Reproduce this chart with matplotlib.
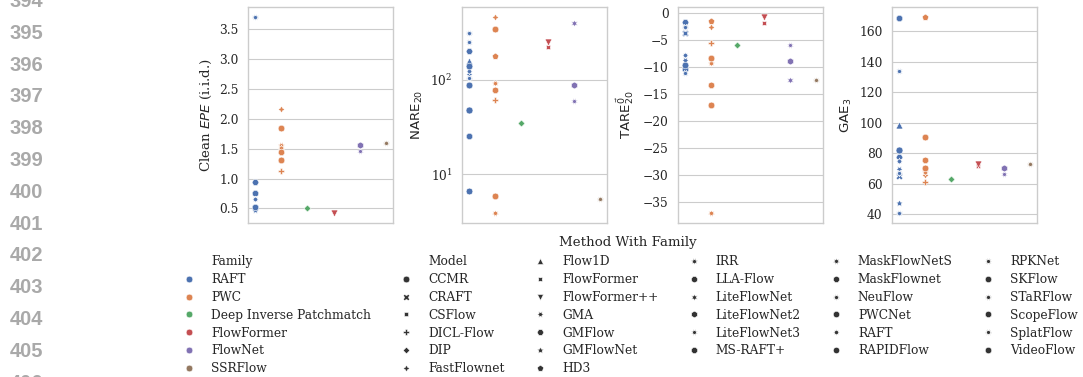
import numpy as np
import matplotlib
matplotlib.use("Agg")
import matplotlib.pyplot as plt
import seaborn as sns
from matplotlib.lines import Line2D

sns.set_theme(context="paper", style="whitegrid", font="serif")
plt.rcParams['font.family'] = ['DejaVu Serif']
plt.rcParams['mathtext.fontset'] = 'dejavusans'

nan = np.nan

families = ["RAFT", "PWC", "Deep Inverse Patchmatch", "FlowFormer", "FlowNet", "SSRFlow"]

models = ["CCMR", "CRAFT", "CSFlow", "DICL-Flow", "DIP", "FastFlownet", "Flow1D",
          "FlowFormer", "FlowFormer++", "GMA", "GMFlow", "GMFlowNet", "HD3", "IRR",
          "LLA-Flow", "LiteFlowNet", "LiteFlowNet2", "LiteFlowNet3", "MS-RAFT+",
          "MaskFlowNetS", "MaskFlownet", "NeuFlow", "PWCNet", "RAFT", "RAPIDFlow",
          "RPKNet", "SKFlow", "STaRFlow", "ScopeFlow", "SplatFlow", "VideoFlow"]

model_family = ["RAFT", "RAFT", "RAFT", "PWC", "Deep Inverse Patchmatch", "PWC", "RAFT",
                "FlowFormer", "FlowFormer", "RAFT", "RAFT", "RAFT", "PWC", "PWC",
                "RAFT", "FlowNet", "FlowNet", "FlowNet", "RAFT",
                "PWC", "PWC", "RAFT", "PWC", "RAFT", "RAFT",
                "RAFT", "RAFT", "SSRFlow", "PWC", "RAFT", "RAFT"]

clean_epe = [nan, 0.50, nan, 1.12, 0.50, 2.17, nan,
             nan, 0.42, 0.47, 0.95, nan, nan, 1.57,
             0.75, nan, 1.56, 1.46, 0.53,
             1.52, 1.44, 3.71, 1.85, 0.65, nan,
             nan, nan, 1.60, 1.31, nan, nan]

nare20 = [48.5, nan, nan, 61.4, 34.8, 466, 157,
          224, 253, 114, 203, nan, 178, 91.6,
          nan, 399, 87.9, 59.8, 25.3,
          3.86, 78.3, 315, 345, 124, 6.56,
          249, 140, 5.4, 5.9, 104, 89]

tare20 = [nan, -3.7, -3.8, -5.63, -6.0, -2.58, nan,
          -1.84, -0.74, -8.7, -1.75, nan, -1.53, -9.3,
          nan, -12.44, -8.88, -5.94, -10.3,
          -37.02, -13.35, -2.6, -8.33, -7.8, nan,
          -11.2, -9.6, -12.44, -17.03, nan, nan]

gae3 = [82.4, 65.3, nan, 61.4, 62.9, 65.8, 98.4,
        71.9, 73.2, 69.7, 77.6, 47.6, 169.4, 68.0,
        nan, nan, 70.2, 66.6, 168.7,
        nan, 75.8, 40.8, 90.5, 74.8, nan,
        133.8, nan, 73.0, 70.6, 67.1, nan]

ylabels = [r"Clean $EPE$ (i.i.d.)", r"$\mathrm{NARE}_{20}$",
           r"$\mathrm{TARE}^{\vec{0}}_{20}$", r"$\mathrm{GAE}_{3}$"]


def unique_markers(n):
    markers = ["o", "X", (4, 0, 45), "P", (4, 0, 0), (4, 1, 0), "^", (4, 1, 45), "v"]
    s = 5
    while len(markers) < n:
        a = 360 / (s + 1) / 2
        markers.extend([(s + 1, 1, a), (s + 1, 0, a), (s, 1, 0), (s, 0, 0)])
        s += 1
    return markers[:n]


colors = dict(zip(families, sns.color_palette("deep", len(families))))
markers = dict(zip(models, unique_markers(len(models))))

W, H = 1083, 377
fig = plt.figure(figsize=(W / 100, H / 100), dpi=100)

lefts = [248, 462, 678, 892]
ax_w, ax_top, ax_bot = 145, 7, 223
metrics = [clean_epe, nare20, tare20, gae3]
axes = []
for i, (left, vals) in enumerate(zip(lefts, metrics)):
    ax = fig.add_axes([left / W, 1 - ax_bot / H, ax_w / W, (ax_bot - ax_top) / H])
    axes.append(ax)
    for m, fam, v in zip(models, model_family, vals):
        if np.isnan(v):
            continue
        ax.scatter([families.index(fam)], [v], marker=markers[m], color=colors[fam],
                   s=25, edgecolor="white", linewidth=0.4, zorder=3)
    ax.set_xlim(-0.25, len(families) - 0.75)
    ax.set_xticks([])
    ax.set_ylabel(ylabels[i])
    ax.tick_params(axis="y", pad=2)

axes[0].set_yticks(np.arange(0.5, 3.51, 0.5))
axes[1].set_yscale("log")
axes[1].minorticks_off()
axes[2].set_yticks(np.arange(-35, 0.1, 5))
axes[3].set_yticks(np.arange(40, 161, 20))

fig.text(627.5 / W, 1 - 242.5 / H, "Method With Family", ha="center", va="center",
         fontsize=9.6)

# legend
handles, labels = [], []
handles.append(Line2D([], [], linestyle="none", marker=None)); labels.append("Family")
for f in families:
    handles.append(Line2D([], [], linestyle="none", marker="o", color=colors[f],
                          markeredgecolor="white", markeredgewidth=0.4, markersize=4.8))
    labels.append(f)
handles.append(Line2D([], [], linestyle="none", marker=None)); labels.append("Model")
for m in models:
    handles.append(Line2D([], [], linestyle="none", marker=markers[m], color=".2",
                          markeredgecolor="white", markeredgewidth=0.4, markersize=4.8))
    labels.append(m)
fig.legend(handles, labels, ncol=6, loc="upper left", frameon=False,
           bbox_to_anchor=(177 / W, 1 - 255 / H), borderpad=0, borderaxespad=0,
           fontsize=8.8, labelspacing=0.4, columnspacing=1.88)

# line numbers of the page
for k, num in enumerate(range(394, 407)):
    fig.text(10 / W, 1 - (1.5 + 31.8 * k) / H, str(num), ha="left", va="center",
             fontsize=14.5, fontweight="bold", color="#a9a9a9",
             family="Liberation Sans")

fig.savefig("out.png", dpi=100)
